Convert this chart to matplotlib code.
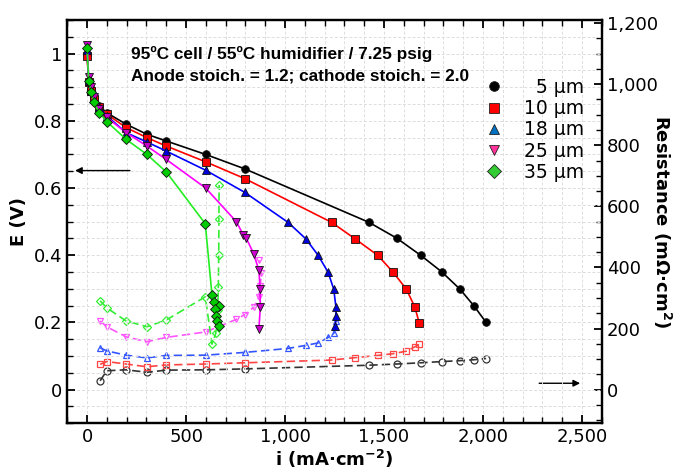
import matplotlib
matplotlib.use("Agg")
import matplotlib.pyplot as plt
from matplotlib.lines import Line2D
from matplotlib.ticker import MultipleLocator, FuncFormatter

# ---------------- data ----------------
labels = ["5 µm", "10 µm", "18 µm", "25 µm", "35 µm"]

# polarization curves (E vs i)
i5 = [0, 8, 20, 33, 62, 99, 197, 302, 400, 599, 797, 1424, 1564, 1685, 1791, 1884, 1955, 2016]
E5 = [1.0, 0.92, 0.894, 0.869, 0.844, 0.824, 0.79, 0.76, 0.74, 0.70, 0.657, 0.498, 0.451, 0.40, 0.351, 0.299, 0.249, 0.20]

i10 = [0, 8, 20, 33, 62, 99, 197, 302, 400, 599, 797, 1235, 1356, 1468, 1547, 1613, 1655, 1678]
E10 = [0.993, 0.915, 0.89, 0.865, 0.84, 0.82, 0.78, 0.75, 0.725, 0.678, 0.628, 0.498, 0.448, 0.40, 0.349, 0.299, 0.247, 0.199]

i18 = [0, 8, 20, 33, 62, 99, 197, 302, 400, 599, 797, 1015, 1105, 1167, 1218, 1246, 1257, 1257, 1255]
E18 = [1.01, 0.92, 0.89, 0.865, 0.84, 0.815, 0.765, 0.737, 0.71, 0.653, 0.587, 0.498, 0.449, 0.40, 0.349, 0.299, 0.247, 0.22, 0.19]

i25 = [0, 8, 20, 33, 62, 99, 197, 302, 400, 599, 754, 790, 805, 842, 868, 874, 875, 868]
E25 = [1.026, 0.93, 0.90, 0.87, 0.835, 0.81, 0.765, 0.725, 0.685, 0.60, 0.50, 0.46, 0.45, 0.404, 0.355, 0.30, 0.245, 0.18]

i35 = [0, 8, 20, 33, 62, 99, 197, 302, 400, 597, 631, 640, 665, 645, 650, 655, 665]
E35 = [1.016, 0.92, 0.885, 0.855, 0.824, 0.798, 0.745, 0.70, 0.648, 0.494, 0.282, 0.26, 0.25, 0.24, 0.22, 0.205, 0.19]

# high-frequency resistance (mOhm cm2 vs i)
ri5 = [66, 99, 197, 302, 400, 599, 797, 1424, 1564, 1685, 1791, 1884, 1955, 2016]
R5 = [29, 62, 65, 57, 64, 65, 68, 80, 84, 88, 92, 95, 98, 102]

ri10 = [66, 99, 197, 302, 400, 599, 797, 1235, 1356, 1468, 1547, 1613, 1655, 1678]
R10 = [83, 92, 84, 75, 81, 84, 88, 97, 105, 112, 118, 126, 140, 148]

ri18 = [66, 99, 197, 302, 400, 599, 797, 1015, 1105, 1167, 1218, 1246, 1255, 1257]
R18 = [137, 127, 113, 104, 112, 113, 122, 135, 145, 153, 171, 184, 205, 225]

ri25 = [66, 99, 197, 302, 400, 599, 754, 797, 842, 868, 875, 880, 868]
R25 = [225, 206, 173, 157, 171, 189, 230, 246, 270, 302, 340, 381, 424]

ri35 = [66, 99, 197, 302, 400, 597, 631, 650, 660, 663, 665, 666, 667]
R35 = [291, 268, 225, 206, 228, 304, 149, 184, 260, 337, 440, 560, 670]

# ---------------- styles ----------------
pol_markers = ["o", "s", "^", "v", "D"]
pol_line_colors = ["#000000", "#ff0000", "#0000ff", "#ff00ff", "#22ee22"]
pol_face_colors = ["#000000", "#ff0000", "#0000dd", "#cc00cc", "#00cc00"]
res_colors = ["#333333", "#ff4444", "#3355ff", "#ff55ff", "#33ee33"]
leg_colors = ["#000000", "#ff0000", "#0070c0", "#ff3399", "#33cc33"]
res_msize = [5, 5, 5, 5, 4.5]

plt.rcParams["font.family"] = ["DejaVu Sans"]

fig = plt.figure(figsize=(6.84, 4.70), dpi=100)
ax = fig.add_axes([0.0984, 0.0994, 0.8797 - 0.0984, 0.9574 - 0.0994])
ax2 = ax.twinx()

pol = [(i5, E5), (i10, E10), (i18, E18), (i25, E25), (i35, E35)]
res = [(ri5, R5), (ri10, R10), (ri18, R18), (ri25, R25), (ri35, R35)]

for k in range(5):
    x, y = res[k]
    ax2.plot(x, y, linestyle=(0, (5, 2.5)), color=res_colors[k], lw=1.2,
             marker=pol_markers[k], markersize=res_msize[k], markerfacecolor="none",
             markeredgecolor=res_colors[k], markeredgewidth=0.9, zorder=2)

for k in range(5):
    x, y = pol[k]
    ax.plot(x, y, "-", color=pol_line_colors[k], lw=1.2,
            marker=pol_markers[k], markersize=5.5,
            markerfacecolor=pol_face_colors[k], markeredgecolor="#111111",
            markeredgewidth=0.6, zorder=3)

# put left axes on top so polarization curves draw above resistance
ax.set_zorder(ax2.get_zorder() + 1)
ax.patch.set_visible(False)

ax.set_xlim(-100, 2600)
ax.set_ylim(-0.1, 1.1)
ax2.set_ylim(-110, 1210)

ax.xaxis.set_major_locator(MultipleLocator(500))
ax.xaxis.set_minor_locator(MultipleLocator(100))
ax.yaxis.set_major_locator(MultipleLocator(0.2))
ax.yaxis.set_minor_locator(MultipleLocator(0.05))
ax2.yaxis.set_major_locator(MultipleLocator(200))
ax2.yaxis.set_minor_locator(MultipleLocator(50))

ax.xaxis.set_major_formatter(FuncFormatter(lambda v, p: f"{int(round(v)):,}"))
ax.yaxis.set_major_formatter(FuncFormatter(lambda v, p: f"{v:.1f}".rstrip("0").rstrip(".") if abs(v) > 1e-9 else "0"))
ax2.yaxis.set_major_formatter(FuncFormatter(lambda v, p: f"{int(round(v)):,}"))

ax.grid(True, which="both", color="#dddddd", linestyle=(0, (3, 2)), lw=0.7)
ax.set_axisbelow(True)

ax.tick_params(axis="both", which="both", direction="in", labelsize=13)
ax.tick_params(axis="x", which="both", top=True)
ax.tick_params(which="major", length=6, width=1.3)
ax.tick_params(which="minor", length=4, width=1.0)
ax2.tick_params(axis="y", which="both", direction="in", labelsize=13)
ax2.tick_params(which="major", length=6, width=1.3)
ax2.tick_params(which="minor", length=4, width=1.0)

for a in (ax, ax2):
    for s in a.spines.values():
        s.set_linewidth(1.6)

ax.set_xlabel("i (mA·cm$^{\\mathbf{-2}}$)", fontsize=13, fontweight="bold", labelpad=1)
ax.set_ylabel("E (V)", fontsize=13, fontweight="bold", labelpad=4)
ax2.set_ylabel("Resistance (mΩ·cm$^{\\mathbf{2}}$)", fontsize=13, fontweight="bold",
               rotation=270, labelpad=11)

# annotation text
ax.text(223, 0.998, "95ºC cell / 55ºC humidifier / 7.25 psig", fontsize=12.4,
        fontweight="bold", family=["Liberation Sans", "DejaVu Sans"], va="center", ha="left")
ax.text(223, 0.934, "Anode stoich. = 1.2; cathode stoich. = 2.0", fontsize=12.4,
        fontweight="bold", family=["Liberation Sans", "DejaVu Sans"], va="center", ha="left")

# arrows
ax.annotate("", xy=(-75, 0.652), xytext=(230, 0.652),
            arrowprops=dict(arrowstyle="-|>", color="k", lw=1.0, mutation_scale=10))
ax2.annotate("", xy=(2505, 21), xytext=(2270, 21),
             arrowprops=dict(arrowstyle="-|>", color="k", lw=1.0, mutation_scale=10))

# legend
handles = [Line2D([], [], linestyle="none", marker=pol_markers[k], markersize=7,
                  markerfacecolor=leg_colors[k], markeredgecolor="#222222", markeredgewidth=0.6)
           for k in range(5)]
leg_labels = ["\u2007" + labels[0]] + labels[1:]
ax.legend(handles, leg_labels, loc="upper right", bbox_to_anchor=(0.982, 0.875),
          frameon=False, fontsize=13.5, handlelength=1.0, handletextpad=1.1,
          labelspacing=0.12, borderaxespad=0.0)

fig.savefig("out.png", dpi=100)
